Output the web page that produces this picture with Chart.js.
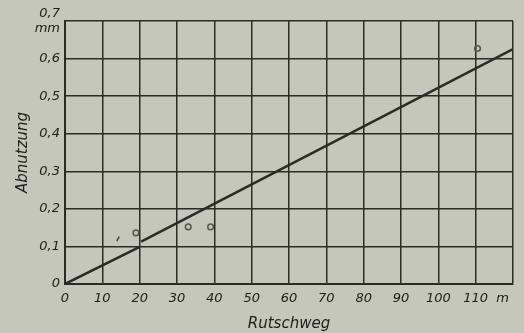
<!DOCTYPE html>
<html>
<head>
<meta charset="utf-8">
<script src="https://cdn.jsdelivr.net/npm/chart.js@4/dist/chart.umd.min.js"></script>
<style>
  html, body { margin: 0; padding: 0; background: #c4c7b9; }
  #wrap { width: 524px; height: 333px; position: relative; }
</style>
</head>
<body>
<div id="wrap"><canvas id="chart"></canvas></div>
<script>
// Rutschweg (m) gegen Abnutzung (mm)
var xTicks = [0, 10, 20, 30, 40, 50, 60, 70, 80, 90, 100, 110, 120];
var xTickLabels = ["0", "10", "20", "30", "40", "50", "60", "70", "80", "90", "100", "110", "m     "];
var yTicks = [0, 0.1, 0.2, 0.3, 0.4, 0.5, 0.6, 0.7];
var yTickLabels = ["0", "0,1", "0,2", "0,3", "0,4", "0,5", "0,6", ["0,7", "mm"]];

// Ausgleichsgerade (mit kleinem Versatz bei 20 m)
var lineX = [0, 20, 20.3, 20.4, 120];
var lineY = [0, 0.099, null, 0.113, 0.625];

// Messpunkte
var measX = [19, 33, 39, 110.5];
var measY = [0.136, 0.152, 0.152, 0.627];
var markX = [14.2];
var markY = [0.12];

var ink = "#2b2b26";

function pts(xs, ys) {
    var out = [];
    for (var i = 0; i < xs.length; i++) {
        out.push({ x: xs[i], y: ys[i] });
    }
    return out;
}

var chart = new Chart(document.getElementById("chart"), {
    type: "scatter",
    data: {
        datasets: [
            {
                data: pts(lineX, lineY),
                showLine: true,
                spanGaps: false,
                borderColor: ink,
                borderWidth: 2.5,
                pointRadius: 0
            },
            {
                data: pts(measX, measY),
                showLine: false,
                pointStyle: "circle",
                pointRadius: 2.8,
                pointBorderWidth: 1.5,
                pointBorderColor: "#55554e",
                pointBackgroundColor: "rgba(0,0,0,0)"
            },
            {
                data: pts(markX, markY),
                showLine: false,
                pointStyle: "line",
                pointRotation: -60,
                pointRadius: 2.5,
                pointBorderWidth: 1.5,
                pointBorderColor: "#44443e"
            }
        ]
    },
    options: {
        responsive: true,
        maintainAspectRatio: false,
        animation: false,
        layout: { padding: { left: 0, right: 11, top: 21, bottom: 0 } },
        plugins: { legend: { display: false }, tooltip: { enabled: false } },
        scales: {
            x: {
                type: "linear",
                min: 0,
                max: 120,
                afterBuildTicks: function(axis) {
                    axis.ticks = xTicks.map(function(v) { return { value: v }; });
                },
                afterFit: function(axis) {
                    axis.height = 49;
                    axis.paddingLeft = 0;
                    axis.paddingRight = 0;
                },
                grid: { color: ink, lineWidth: 1.5, drawTicks: false },
                border: { color: ink, width: 2 },
                ticks: {
                    maxRotation: 0,
                    autoSkip: false,
                    padding: 7,
                    color: "#1e1e1b",
                    font: { family: "DejaVu Sans", style: "italic", size: 13 },
                    callback: function(v) { return xTickLabels[xTicks.indexOf(v)]; }
                },
                title: {
                    display: true,
                    text: "Rutschweg",
                    color: "#1e1e1b",
                    padding: { top: 0, bottom: 0 },
                    font: { family: "DejaVu Sans", style: "italic", size: 15 }
                }
            },
            y: {
                type: "linear",
                min: 0,
                max: 0.7,
                afterBuildTicks: function(axis) {
                    axis.ticks = yTicks.map(function(v) { return { value: v }; });
                },
                afterFit: function(axis) {
                    axis.width = 65;
                    axis.paddingTop = 0;
                    axis.paddingBottom = 0;
                },
                grid: { color: ink, lineWidth: 1.5, drawTicks: false },
                border: { color: ink, width: 2 },
                ticks: {
                    autoSkip: false,
                    padding: 5,
                    color: "#1e1e1b",
                    font: { family: "DejaVu Sans", style: "italic", size: 13 },
                    callback: function(v) {
                        var i = yTicks.findIndex(function(t) { return Math.abs(t - v) < 1e-6; });
                        return yTickLabels[i];
                    }
                },
                title: {
                    display: true,
                    text: "Abnutzung",
                    color: "#1e1e1b",
                    padding: { top: 14, bottom: 0 },
                    font: { family: "DejaVu Sans", style: "italic", size: 15 }
                }
            }
        }
    }
});
</script>
</body>
</html>
